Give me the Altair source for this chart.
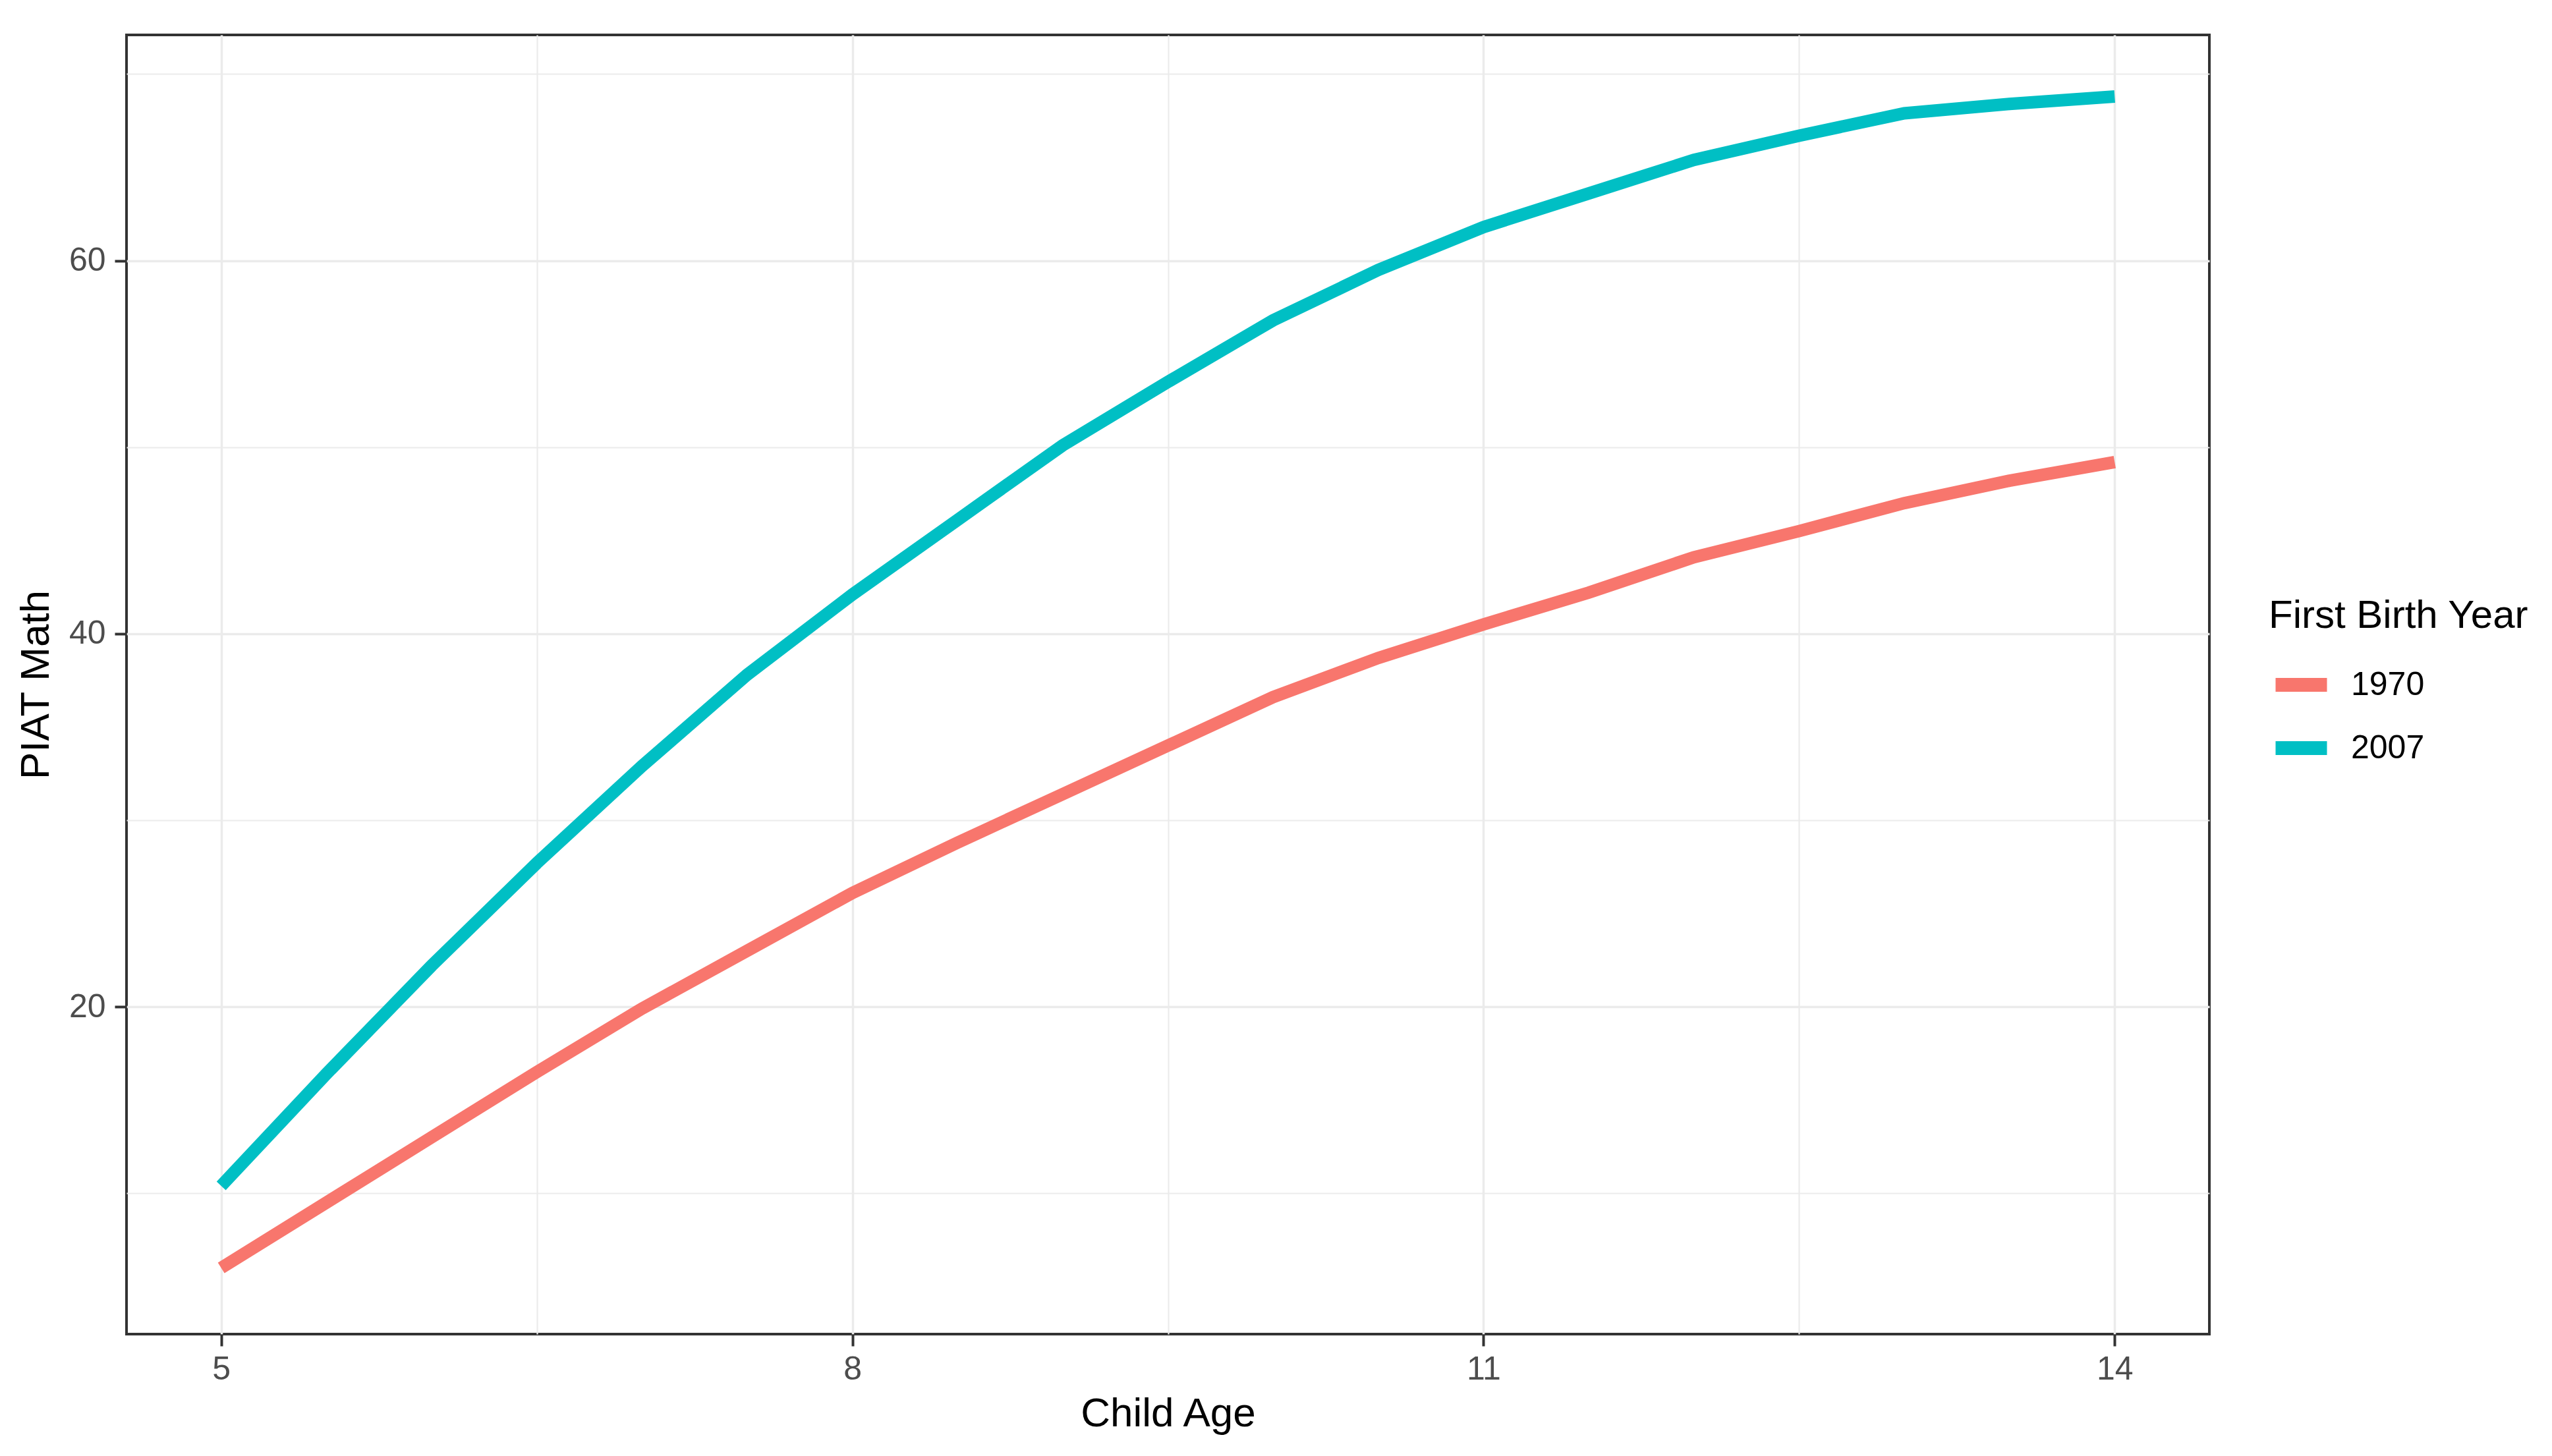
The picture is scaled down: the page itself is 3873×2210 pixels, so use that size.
import altair as alt
import pandas as pd

ages = [5, 5.5, 6, 6.5, 7, 7.5, 8, 8.5, 9, 9.5, 10, 10.5, 11, 11.5, 12, 12.5, 13, 13.5, 14]
piat_1970 = [6.0, 9.5, 13.0, 16.5, 19.9, 23.0, 26.1, 28.8, 31.4, 34.0, 36.6, 38.7, 40.5,
             42.2, 44.1, 45.5, 47.0, 48.2, 49.2]
piat_2007 = [10.4, 16.4, 22.2, 27.7, 32.9, 37.8, 42.1, 46.1, 50.1, 53.5, 56.8, 59.5, 61.8,
             63.6, 65.4, 66.7, 67.9, 68.4, 68.8]
series = ["1970", "2007"]
colors = ["#F8766D", "#00BFC4"]

x_grid = [5, 6.5, 8, 9.5, 11, 12.5, 14]
y_grid = [10, 20, 30, 40, 50, 60, 70]
x_domain = [4.55, 14.45]
y_domain = [2.45, 72.1]

rows = []
for a, v in zip(ages, piat_1970):
    rows.append({"age": a, "piat": v, "year": series[0]})
for a, v in zip(ages, piat_2007):
    rows.append({"age": a, "piat": v, "year": series[1]})
df = pd.DataFrame(rows)

FONT = "Liberation Sans"
x_major = "datum.value % 3 == 2"
y_major = "datum.value % 20 == 0"

chart = alt.Chart(df).mark_line(strokeWidth=19, strokeCap="butt").encode(
    x=alt.X(
        "age:Q",
        scale=alt.Scale(domain=x_domain, nice=False, zero=False),
        axis=alt.Axis(
            values=x_grid,
            labelExpr=f"{x_major} ? datum.label : ''",
            title="Child Age",
            domain=False,
            tickSize=18,
            tickWidth=4,
            tickColor={"condition": {"test": x_major, "value": "#333333"}, "value": "transparent"},
            gridColor="#EBEBEB",
            gridWidth={"condition": {"test": x_major, "value": 3.5}, "value": 2.2},
            labelFont=FONT,
            labelFontSize=50,
            labelColor="#4D4D4D",
            labelPadding=10,
            labelFlush=False,
            labelOverlap=False,
            titleFont=FONT,
            titleFontSize=62,
            titleFontWeight="normal",
            titleColor="black",
            titlePadding=12,
        ),
    ),
    y=alt.Y(
        "piat:Q",
        scale=alt.Scale(domain=y_domain, nice=False, zero=False),
        axis=alt.Axis(
            values=y_grid,
            labelExpr=f"{y_major} ? datum.label : ''",
            title="PIAT Math",
            domain=False,
            tickSize=18,
            tickWidth=4,
            tickColor={"condition": {"test": y_major, "value": "#333333"}, "value": "transparent"},
            gridColor="#EBEBEB",
            gridWidth={"condition": {"test": y_major, "value": 3.5}, "value": 2.2},
            labelFont=FONT,
            labelFontSize=50,
            labelColor="#4D4D4D",
            labelPadding=14,
            labelFlush=False,
            labelOverlap=False,
            titleFont=FONT,
            titleFontSize=62,
            titleFontWeight="normal",
            titleColor="black",
            titlePadding=18,
        ),
    ),
    color=alt.Color(
        "year:N",
        scale=alt.Scale(domain=series, range=colors),
        legend=alt.Legend(
            orient="none",
            legendX=3251,
            legendY=853,
            padding=0,
            title="First Birth Year",
            titleFont=FONT,
            titleFontSize=60,
            titleFontWeight="normal",
            titleColor="black",
            titleLimit=2000,
            titlePadding=24,
            labelFont=FONT,
            labelFontSize=50,
            labelColor="black",
            labelLimit=2000,
            labelOffset=26,
            symbolType="stroke",
            symbolSize=6084,
            symbolStrokeWidth=21,
            rowPadding=4,
        ),
    ),
).properties(
    width=3161,
    height=1972,
    autosize=alt.AutoSizeParams(type="none"),
    padding={"left": 184, "top": 45, "right": 504, "bottom": 170},
    background="white",
).configure_view(
    stroke="#333333",
    strokeWidth=4,
)

chart.save("out.html", embed_options={"renderer": "svg", "actions": False})
